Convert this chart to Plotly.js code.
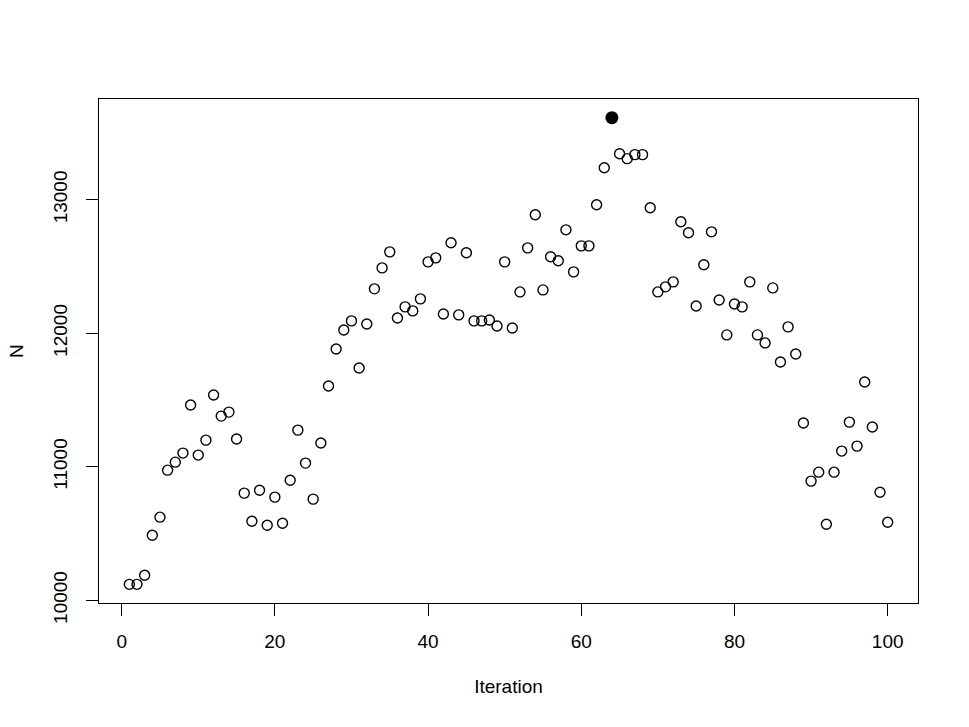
<!DOCTYPE html>
<html>
<head>
<meta charset="utf-8">
<script src="https://cdn.plot.ly/plotly-3.0.1.min.js"></script>
<style>
  html, body { margin: 0; padding: 0; background: #fff; }
  #plot { width: 969px; height: 727px; }
</style>
</head>
<body>
<div id="plot"></div>
<script>
// N at each iteration
const iteration = Array.from({ length: 100 }, (_, i) => i + 1);
const N = [
  10120, 10120, 10188, 10488, 10623, 10975, 11035, 11103, 11463, 11088,
  11200, 11538, 11380, 11410, 11208, 10803, 10593, 10825, 10563, 10773,
  10578, 10900, 11275, 11028, 10758, 11178, 11605, 11883, 12025, 12093,
  11740, 12070, 12333, 12490, 12610, 12115, 12198, 12168, 12258, 12535,
  12565, 12145, 12678, 12138, 12603, 12093, 12093, 12100, 12055, 12535,
  12040, 12310, 12640, 12888, 12325, 12573, 12543, 12775, 12460, 12655,
  12655, 12963, 13240, 13615, 13345, 13308, 13338, 13338, 12940, 12310,
  12348, 12385, 12835, 12753, 12205, 12513, 12760, 12250, 11988, 12220,
  12198, 12385, 11988, 11928, 12340, 11785, 12048, 11845, 11328, 10893,
  10960, 10570, 10960, 11118, 11335, 11155, 11635, 11298, 10810, 10585
];
const xTicks = [0, 20, 40, 60, 80, 100];
const yTicks = [10000, 11000, 12000, 13000];

// highlighted best point
const best = N.indexOf(Math.max(...N));

// R-style 4% padding on axis ranges
function pad(vals) {
  let lo = Math.min(...vals), hi = Math.max(...vals);
  let d = (hi - lo) * 0.04;
  return [lo - d, hi + d];
}

const font = { family: 'Liberation Sans, Arial, sans-serif', size: 19, color: '#000' };

let pts = {
  x: iteration,
  y: N,
  mode: 'markers',
  type: 'scatter',
  marker: { symbol: 'circle-open', size: 10, color: '#000', line: { width: 1.4, color: '#000' } },
  hoverinfo: 'x+y'
};
let bestPt = {
  x: [iteration[best]],
  y: [N[best]],
  mode: 'markers',
  type: 'scatter',
  marker: { symbol: 'circle', size: 13, color: '#000' }
};

let layout = {
  width: 969,
  height: 727,
  showlegend: false,
  paper_bgcolor: '#fff',
  plot_bgcolor: '#fff',
  font: font,
  margin: { l: 99, r: 51, t: 99, b: 124, pad: 0 },
  xaxis: {
    range: pad(iteration),
    tickvals: xTicks,
    ticktext: xTicks.map(String),
    ticks: 'outside',
    ticklen: 12,
    tickwidth: 1,
    tickcolor: '#000',
    ticklabelstandoff: 9,
    showgrid: false,
    zeroline: false,
    showline: true,
    mirror: true,
    linecolor: '#000',
    linewidth: 1,
    title: { text: 'Iteration', font: font, standoff: 28 }
  },
  yaxis: {
    range: pad(N),
    tickvals: yTicks,
    ticktext: yTicks.map(String),
    tickangle: -90,
    ticks: 'outside',
    ticklen: 12,
    tickwidth: 1,
    tickcolor: '#000',
    ticklabelstandoff: 11,
    showgrid: false,
    zeroline: false,
    showline: true,
    mirror: true,
    linecolor: '#000',
    linewidth: 1,
    title: { text: 'N', font: font, standoff: 21 }
  }
};

Plotly.newPlot('plot', [pts, bestPt], layout, { displayModeBar: false, staticPlot: true });
</script>
</body>
</html>
